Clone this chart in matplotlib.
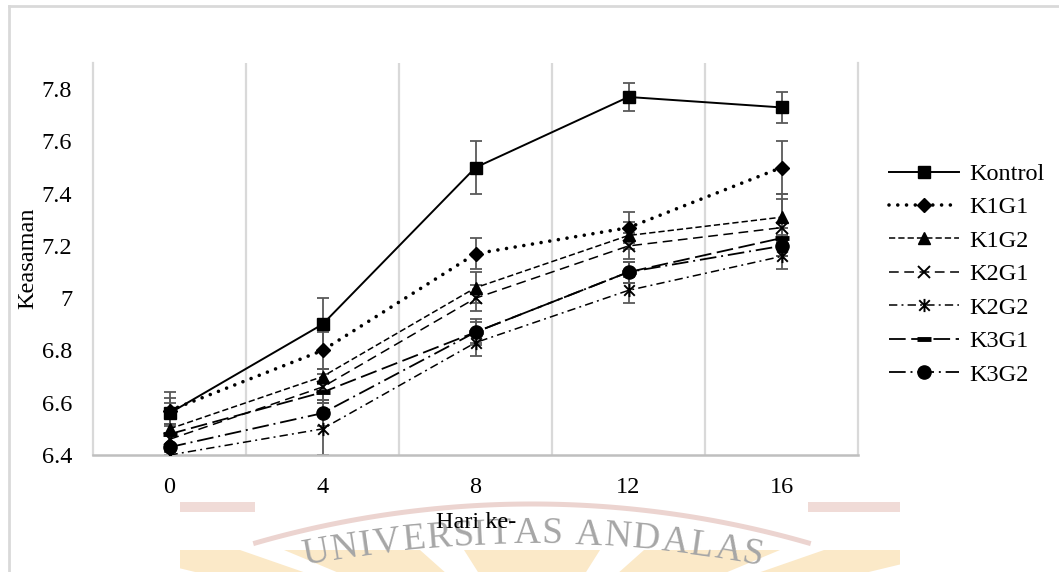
import numpy as np
import matplotlib
matplotlib.use("Agg")
import matplotlib.pyplot as plt
from matplotlib.path import Path
from matplotlib.patches import Polygon, Rectangle
from matplotlib.lines import Line2D
from matplotlib.textpath import TextPath
from matplotlib.font_manager import FontProperties

plt.rcParams['font.family'] = ['Liberation Serif', 'DejaVu Serif']
plt.rcParams['lines.scale_dashes'] = False

# pH (keasaman) per treatment over storage days
days = ['0', '4', '8', '12', '16']
kontrol = [6.56, 6.90, 7.50, 7.77, 7.73]
k1g1 = [6.57, 6.80, 7.17, 7.27, 7.50]
k1g2 = [6.50, 6.70, 7.04, 7.24, 7.31]
k2g1 = [6.46, 6.66, 7.00, 7.20, 7.27]
k2g2 = [6.40, 6.50, 6.83, 7.03, 7.16]
k3g1 = [6.48, 6.64, 6.87, 7.10, 7.23]
k3g2 = [6.43, 6.56, 6.87, 7.10, 7.20]

# standard deviations
sd_kontrol = [0.08, 0.10, 0.10, 0.055, 0.06]
sd_k1g1 = [0.05, 0.07, 0.06, 0.06, 0.10]
sd_k1g2 = [0.10, 0.03, 0.06, 0.05, 0.09]
sd_k2g1 = [0.05, 0.05, 0.05, 0.05, 0.11]
sd_k2g2 = [0.04, 0.10, 0.05, 0.05, 0.05]
sd_k3g1 = [0.04, 0.04, 0.04, 0.04, 0.04]
sd_k3g2 = [0.05, 0.05, 0.05, 0.04, 0.04]

W, H = 1059, 572
FS = 17.5
fig = plt.figure(figsize=(W / 100, H / 100), dpi=100)


def fx(x):
    return x / W


def fy(y):
    return 1 - y / H


ax = fig.add_axes([fx(93), fy(455), fx(858) - fx(93), fy(63) - fy(455)])

# asterisk-style marker: X with a vertical stroke
star_x = Path([(-1, -1), (1, 1), (-1, 1), (1, -1), (0, -1.25), (0, 1.25)],
              [Path.MOVETO, Path.LINETO] * 3)

series = [
    ('Kontrol', kontrol, sd_kontrol, dict(ls='-', lw=1.4, marker='s', ms=8.8)),
    ('K1G1', k1g1, sd_k1g1, dict(ls=(0, (0.01, 6.3)), lw=2.6, marker='D', ms=7.2,
                                  dash_capstyle='round')),
    ('K1G2', k1g2, sd_k1g2, dict(ls=(0, (4.5, 2.2)), lw=1.1, marker='^', ms=8.5)),
    ('K2G1', k2g1, sd_k2g1, dict(ls=(0, (7, 4)), lw=1.1, marker='x', ms=9, mew=1.4)),
    ('K2G2', k2g2, sd_k2g2, dict(ls=(0, (6, 3, 1.4, 3)), lw=1.1, marker=star_x,
                                  ms=9.5, mew=1.4, mfc='none')),
    ('K3G1', k3g1, sd_k3g1, dict(ls=(0, (12, 4)), lw=1.3, marker='_', ms=10, mew=3.5)),
    ('K3G2', k3g2, sd_k3g2, dict(ls=(0, (12, 3.5, 1.4, 3.5)), lw=1.3, marker='o', ms=9.5)),
]

x = np.arange(len(days))
for name, vals, sd, style in series:
    ax.errorbar(x, vals, yerr=sd, fmt='none', ecolor='#595959', elinewidth=1.3,
                capsize=4.3, capthick=1.3, zorder=2)
    ax.plot(x, vals, color='black', label=name, zorder=3, **style)

ax.set_xlim(-0.5, 4.5)
ax.set_ylim(6.4, 7.9)
ax.set_xticks(x)
ax.set_xticklabels(days)
yt = np.arange(6.4, 7.81, 0.2)
ax.set_yticks(yt)
ax.set_yticklabels(['{:g}'.format(round(v, 1)) for v in yt])
ax.tick_params(length=0, labelsize=FS, colors='black')
ax.tick_params(axis='y', pad=15)
ax.tick_params(axis='x', pad=16)

# category separators
ax.set_xticks(np.arange(0.5, 4.0, 1.0), minor=True)
ax.tick_params(which='minor', length=0)
ax.grid(which='minor', axis='x', color='#d9d9d9', lw=1.6)
ax.grid(which='major', visible=False)
for s in ['left', 'right']:
    ax.spines[s].set_color('#d9d9d9')
    ax.spines[s].set_linewidth(1.6)
ax.spines['top'].set_visible(False)
ax.spines['bottom'].set_color('#bfbfbf')
ax.spines['bottom'].set_linewidth(1.8)

fig.text(fx(28), fy(258), 'Keasaman', rotation=90, ha='center', va='center', fontsize=FS)
fig.text(fx(476), fy(522), 'Hari ke-', ha='center', va='center', fontsize=FS)

ax.legend(loc='upper left', bbox_to_anchor=(fx(889), fy(163)),
          bbox_transform=fig.transFigure, frameon=False, fontsize=FS,
          handlelength=2.9, handletextpad=0.42, labelspacing=0.47,
          borderaxespad=0, borderpad=0)

# chart area border
fig.add_artist(Line2D([fx(9), fx(9)], [fy(6), 0], color='#d9d9d9', lw=2.0,
                      transform=fig.transFigure))
fig.add_artist(Line2D([fx(9), 1], [fy(6), fy(6)], color='#d9d9d9', lw=2.0,
                      transform=fig.transFigure))

# faint university watermark behind the lower part
cx = 532
wm_color = '#a6a6a6'
fig.add_artist(Polygon([(fx(180), fy(572)), (fx(180), fy(550)), (fx(900), fy(550)),
                        (fx(900), fy(572))], closed=True, fc='#fbe9c8', ec='none',
                       transform=fig.transFigure, zorder=-3))
for a0 in np.linspace(-0.5, 0.5, 6):
    tip = (cx + 110 * a0, 640)
    fig.add_artist(Polygon([(fx(tip[0]), fy(tip[1])),
                            (fx(cx + 900 * a0 - 22), fy(550)),
                            (fx(cx + 900 * a0 + 22), fy(550))], closed=True,
                           fc='white', ec='none', transform=fig.transFigure, zorder=-2))
R_arc = 1000
th = np.linspace(-0.28, 0.28, 100)
arc_cy = 1504
fig.add_artist(Line2D(fx(cx + R_arc * np.sin(th)), fy(arc_cy - R_arc * np.cos(th)),
                      color='#ecd4d0', lw=3.6, transform=fig.transFigure, zorder=-2))
fig.add_artist(Rectangle((fx(180), fy(512)), fx(255) - fx(180), fy(502) - fy(512),
                         fc='#f0dbd7', ec='none', transform=fig.transFigure, zorder=-2))
fig.add_artist(Rectangle((fx(808), fy(512)), fx(900) - fx(808), fy(502) - fy(512),
                         fc='#f0dbd7', ec='none', transform=fig.transFigure, zorder=-2))

word = 'UNIVERSITAS ANDALAS'
fsize = 27
R = 1200
fprop = FontProperties(family='Liberation Serif', size=fsize)
px_per_pt = 100 / 72
widths = []
for ch in word:
    if ch == ' ':
        widths.append(0.3 * fsize * px_per_pt)
    else:
        ext = TextPath((0, 0), ch, prop=fprop).get_extents()
        widths.append((ext.width + 0.1 * fsize) * px_per_pt)
total = sum(widths)
text_cy = 534 + R
pos = -total / 2
for ch, w in zip(word, widths):
    s = pos + w / 2
    pos += w
    if ch == ' ':
        continue
    t = s / R
    fig.text(fx(cx + R * np.sin(t)), fy(text_cy - R * np.cos(t)), ch,
             rotation=-np.degrees(t), ha='center', va='center', fontsize=fsize,
             color=wm_color, rotation_mode='anchor', zorder=-1)

fig.savefig('out.png', dpi=100)
